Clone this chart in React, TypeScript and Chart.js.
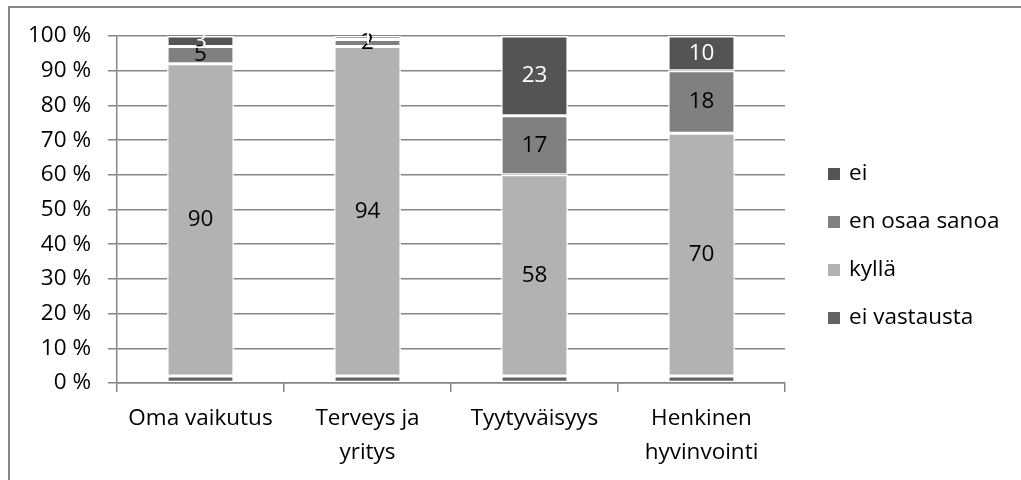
import React, { useEffect, useRef } from "react";
import { Chart, registerables } from "chart.js";

Chart.register(...registerables);

// ---- data ----
const categories: (string | string[])[] = [
  "Oma vaikutus",
  ["Terveys ja", "yritys"],
  "Tyytyväisyys",
  ["Henkinen", "hyvinvointi"],
];
const seriesNames = ["ei vastausta", "kyllä", "en osaa sanoa", "ei"];
const eiVastausta = [2, 2, 2, 2];
const kylla = [90, 94, 58, 70];
const enOsaaSanoa = [5, 2, 17, 18];
const ei = [3, 1, 23, 10];
const yTickValues = [0, 10, 20, 30, 40, 50, 60, 70, 80, 90, 100];

const seriesValues = [eiVastausta, kylla, enOsaaSanoa, ei];
const seriesColors = ["#636363", "#b2b2b2", "#808080", "#545454"];
const labelColors = [null, "#000000", "#000000", "#ffffff"];

const FONT = "'Open Sans', sans-serif";
const FONT_SIZE = 22.5;
const GRID = "#858585";

const totals = categories.map((_, i) =>
  seriesValues.reduce((s, arr) => s + arr[i], 0)
);

const dataLabelPlugin = {
  id: "dataLabels",
  afterDatasetsDraw(chart: any) {
    const { ctx } = chart;
    ctx.save();
    ctx.font = `${FONT_SIZE}px ${FONT}`;
    ctx.textAlign = "center";
    ctx.textBaseline = "middle";
    chart.data.datasets.forEach((ds: any, di: number) => {
      const color = labelColors[di];
      if (!color) return;
      const meta = chart.getDatasetMeta(di);
      meta.data.forEach((el: any, i: number) => {
        const { x, y, base } = el.getProps(["x", "y", "base"], true);
        ctx.fillStyle = color;
        ctx.fillText(String(ds.raw[i]), x, (y + base) / 2);
      });
    });
    ctx.restore();
  },
};

const legendPlugin = {
  id: "sideLegend",
  afterDraw(chart: any) {
    const { ctx, chartArea } = chart;
    const ds = chart.data.datasets;
    const n = ds.length;
    const spacing = 48;
    const centerY = chart.height / 2 + 6;
    const startY = centerY - ((n - 1) * spacing) / 2;
    const boxX = chartArea.right + 43;
    const box = 12;
    ctx.save();
    ctx.font = `${FONT_SIZE}px ${FONT}`;
    ctx.textAlign = "left";
    ctx.textBaseline = "middle";
    for (let k = 0; k < n; k++) {
      const d = ds[n - 1 - k];
      const cy = startY + k * spacing;
      ctx.fillStyle = d.backgroundColor;
      ctx.fillRect(boxX, cy - box / 2, box, box);
      ctx.fillStyle = "#000000";
      ctx.fillText(d.label, boxX + box + 9, cy);
    }
    ctx.restore();
  },
};

export default function App() {
  const canvasRef = useRef<HTMLCanvasElement | null>(null);

  useEffect(() => {
    const canvas = canvasRef.current;
    if (!canvas) return;
    const chart = new Chart(canvas, {
      type: "bar",
      data: {
        labels: categories as any,
        datasets: seriesNames.map((name, si) => ({
          label: name,
          raw: seriesValues[si],
          data: seriesValues[si].map((v, i) => (v / totals[i]) * 100),
          backgroundColor: seriesColors[si],
          borderColor: "#ffffff",
          borderWidth: 1.5,
          borderSkipped: false,
          barPercentage: 0.4,
          categoryPercentage: 1.0,
        })) as any,
      },
      options: {
        responsive: false,
        animation: false,
        devicePixelRatio: 1,
        layout: { padding: { left: 0, top: 36, right: 236, bottom: 0 } },
        plugins: {
          legend: { display: false },
          tooltip: { enabled: false },
          title: { display: false },
        },
        scales: {
          x: {
            stacked: true,
            grid: {
              display: true,
              drawOnChartArea: false,
              drawTicks: true,
              tickLength: 9,
              color: GRID,
              lineWidth: 1.5,
              offset: true,
            },
            border: { display: true, color: GRID, width: 1.5 },
            ticks: {
              color: "#000000",
              padding: 10,
              maxRotation: 0,
              autoSkip: false,
              font: { family: FONT, size: FONT_SIZE, lineHeight: "34px" },
            },
            afterFit: (axis: any) => {
              axis.height = 97;
            },
          },
          y: {
            stacked: true,
            min: 0,
            max: 100,
            afterBuildTicks: (axis: any) => {
              axis.ticks = yTickValues.map((v) => ({ value: v }));
            },
            grid: {
              display: true,
              drawOnChartArea: true,
              drawTicks: true,
              tickLength: 9,
              color: GRID,
              lineWidth: 1.5,
            },
            border: { display: true, color: GRID, width: 1.5 },
            ticks: {
              color: "#000000",
              padding: 17,
              callback: (v: any) => `${v} %`,
              font: { family: FONT, size: FONT_SIZE },
            },
            afterFit: (axis: any) => {
              axis.width = 117;
            },
          },
        },
      },
      plugins: [dataLabelPlugin, legendPlugin],
    });
    return () => chart.destroy();
  }, []);

  return (
    <div
      style={{
        position: "fixed",
        left: 0,
        top: 0,
        width: 1021,
        height: 480,
        overflow: "hidden",
        background: "#ffffff",
      }}
    >
      <div
        style={{
          position: "absolute",
          left: 8,
          top: 6,
          width: 1100,
          height: 600,
          border: "2px solid #888888",
          boxSizing: "border-box",
        }}
      />
      <canvas
        ref={canvasRef}
        width={1021}
        height={480}
        style={{ position: "absolute", left: 0, top: 0, width: 1021, height: 480 }}
      />
    </div>
  );
}
